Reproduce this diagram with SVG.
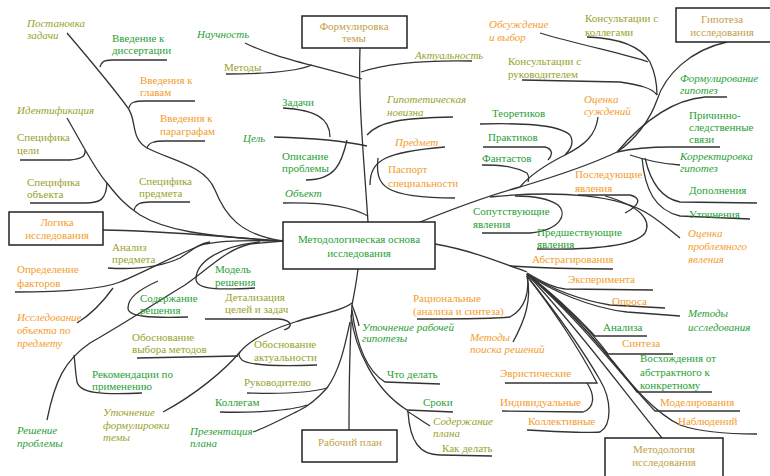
<svg xmlns="http://www.w3.org/2000/svg" width="770" height="476" viewBox="0 0 770 476">
<style>
text{font-family:"Liberation Serif","Times New Roman",serif;font-size:11px}
.g{fill:#27a035}.o{fill:#9aa22a}.r{fill:#f39c2b}.k{fill:#c2a046}
.i{font-style:italic}
.m{text-anchor:middle}
.box{fill:#fff;stroke:#222;stroke-width:1.5}
#connectors path{fill:none;stroke:#333;stroke-width:1.3}
</style>
<rect width="770" height="476" fill="#fff"/>
<g id="connectors">
<path d="M360,48 C358,100 364,160 368,222"/>
<path d="M361,72 C385,64 420,60 472,61"/>
<path d="M245,43 C275,58 310,64 362,79"/>
<path d="M226,74 C260,74 295,72 312,65"/>
<path d="M367,135 C378,122 400,118 453,117"/>
<path d="M370,185 C370,160 385,152 445,147"/>
<path d="M378,158 C375,186 383,198 455,198"/>
<path d="M274,137 C310,138 340,140 367,146"/>
<path d="M283,108 C315,110 330,118 330,137"/>
<path d="M347,140 C342,162 336,180 306,180"/>
<path d="M283,203 C320,202 350,206 368,216"/>
<path d="M67,33 C90,60 115,90 128,108 C137,120 130,138 147,148 C170,160 205,165 215,190 C225,215 240,235 283,241"/>
<path d="M100,67 C101,62 104,60 112,60 L167,60"/>
<path d="M129,108 C130,102 135,101 145,101 L195,101"/>
<path d="M147,148 C149,142 155,141 165,141 L205,141"/>
<path d="M67,118 C80,140 95,170 107,183 C118,197 125,205 140,215 C165,230 200,236 283,241"/>
<path d="M85,150 C86,157 80,159 70,160 L20,160"/>
<path d="M107,183 C106,200 100,203 85,203 L30,203"/>
<path d="M134,210 C136,204 140,202 150,202 L190,202"/>
<path d="M103,230 C150,230 200,235 283,241"/>
<path d="M15,292 C60,292 100,290 120,282 C150,270 180,252 205,244 C225,240 250,240 283,241"/>
<path d="M108,268 C140,270 165,265 180,258 C192,250 198,244 210,242"/>
<path d="M77,323 C90,315 103,302 113,288"/>
<path d="M47,420 C55,380 65,360 90,343 C130,320 160,300 185,285 C210,268 225,250 250,244 L283,241"/>
<path d="M188,317 C150,318 128,317 128,308 C128,298 138,290 158,281"/>
<path d="M142,393 C100,395 80,393 77,382 C75,370 75,362 74,355"/>
<path d="M255,288 C220,290 196,290 196,279 C196,262 220,246 260,242"/>
<path d="M358,269 C356,285 354,295 352,305"/>
<path d="M352,305 C350,340 349,380 349,430"/>
<path d="M352,305 C355,313 358,320 359,326"/>
<path d="M352,310 C356,340 365,370 385,382 L440,384"/>
<path d="M351,315 C355,350 375,390 407,410 L453,412"/>
<path d="M407,411 C415,416 422,421 430,426"/>
<path d="M408,412 C410,442 420,455 440,455 L492,456"/>
<path d="M352,303 C340,312 315,315 295,322 C270,330 250,340 240,352 C225,370 195,395 163,412"/>
<path d="M205,319 L278,319 C293,320 293,327 284,330"/>
<path d="M137,358 L238,356"/>
<path d="M317,365 C290,366 250,366 242,360 C238,356 238,354 240,352"/>
<path d="M350,322 C345,345 340,370 327,388 C318,398 310,405 300,410 C280,420 265,428 253,432"/>
<path d="M247,393 C280,394 310,393 327,388"/>
<path d="M220,412 C250,413 290,411 307,405"/>
<path d="M420,222 C450,210 490,195 520,187 C560,175 590,165 617,152 C635,140 650,120 657,100 C665,75 690,50 727,42"/>
<path d="M617,152 C640,125 670,100 705,97 L727,97"/>
<path d="M587,37 C615,38 640,45 650,62 C656,75 657,85 657,95"/>
<path d="M540,33 C580,45 630,55 648,62"/>
<path d="M522,80 L620,82 C640,85 652,88 657,95"/>
<path d="M598,117 C596,135 585,145 565,155 C545,165 530,175 520,187"/>
<path d="M480,124 C520,123 558,124 570,135 C575,143 570,150 565,155"/>
<path d="M483,147 L545,147 C553,149 553,155 548,160"/>
<path d="M482,165 C500,165 513,166 527,173 C529,176 529,179 528,182"/>
<path d="M617,152 C635,148 650,147 670,147 L720,147"/>
<path d="M630,155 C645,160 660,164 680,165"/>
<path d="M645,158 C650,180 660,198 680,202 L757,203"/>
<path d="M642,158 C645,190 655,210 680,216 L750,219"/>
<path d="M490,197 C560,190 620,195 650,215 C665,225 672,232 680,238"/>
<path d="M482,233 L530,233 C560,230 568,215 558,205 C548,198 530,196 515,196"/>
<path d="M537,249 C590,250 635,246 645,233 C652,220 640,206 605,196"/>
<path d="M578,195 L630,195 C642,198 640,205 625,213"/>
<path d="M435,244 C470,250 500,262 527,272"/>
<path d="M510,266 C540,268 580,269 613,269"/>
<path d="M527,273 C540,280 550,287 565,289 L653,290"/>
<path d="M527,274 C550,288 580,300 610,305 L665,308"/>
<path d="M527,274 C550,290 590,308 627,312 L680,316"/>
<path d="M527,274 C555,295 580,320 595,336 L647,336"/>
<path d="M527,274 C560,300 590,330 608,354 L673,354"/>
<path d="M527,274 C570,310 610,355 637,392 L712,392"/>
<path d="M527,274 C580,320 625,380 655,411 L740,411"/>
<path d="M527,274 C600,330 630,400 680,425 C700,432 730,434 757,434"/>
<path d="M527,274 C580,330 630,400 662,438"/>
<path d="M527,274 C530,292 525,309 510,317 C495,319 450,319 417,319"/>
<path d="M527,276 C532,300 525,320 513,342"/>
<path d="M505,383 L597,383 C580,350 550,305 527,276"/>
<path d="M502,411 L583,412 C595,408 595,395 587,383"/>
<path d="M527,430 C560,432 590,433 600,432 C612,425 612,400 600,380 C580,345 550,305 527,276"/>
</g>
<g id="n-center"><rect class="box" x="283" y="222" width="152" height="47"/><text class="g m" x="359" y="243">Методологическая основа</text><text class="g m" x="359" y="257">исследования</text></g>
<g id="n-tema"><rect class="box" x="302" y="16" width="105" height="32"/><text class="k m" x="354" y="30">Формулировка</text><text class="k m" x="354" y="42">темы</text></g>
<g id="n-gipoteza"><rect class="box" x="676" y="8" width="96" height="34"/><text class="k m" x="722" y="23">Гипотеза</text><text class="k m" x="722" y="36">исследования</text></g>
<g id="n-logika"><rect class="box" x="9" y="212" width="94" height="33"/><text class="r m" x="57" y="226">Логика</text><text class="r m" x="57" y="239">исследования</text></g>
<g id="n-plan"><rect class="box" x="302" y="430" width="95" height="32"/><text class="k m" x="350" y="446">Рабочий план</text></g>
<g id="n-metodologia"><rect class="box" x="605" y="438" width="118" height="40"/><text class="k m" x="664" y="453">Методология</text><text class="k m" x="664" y="466">исследования</text></g>
<g id="n-postanovka"><text class="o i" x="27" y="27">Постановка</text><text class="o i" x="27" y="39">задачи</text></g>
<g id="n-vved-diss"><text class="g" x="112" y="42">Введение к</text><text class="g" x="112" y="54">диссертации</text></g>
<g id="n-vved-glav"><text class="r" x="140" y="84">Введения к</text><text class="r" x="140" y="96">главам</text></g>
<g id="n-vved-par"><text class="r" x="160" y="122">Введения к</text><text class="r" x="160" y="135">параграфам</text></g>
<g id="n-ident"><text class="o i" x="17" y="114">Идентификация</text></g>
<g id="n-spec-cel"><text class="o" x="17" y="141">Специфика</text><text class="o" x="17" y="154">цели</text></g>
<g id="n-spec-obj"><text class="o" x="27" y="186">Специфика</text><text class="o" x="27" y="198">объекта</text></g>
<g id="n-spec-pred"><text class="o" x="139" y="185">Специфика</text><text class="o" x="139" y="197">предмета</text></g>
<g id="n-nauch"><text class="g i" x="197" y="38">Научность</text></g>
<g id="n-metody"><text class="o" x="224" y="71">Методы</text></g>
<g id="n-zadachi"><text class="g" x="282" y="106">Задачи</text></g>
<g id="n-cel"><text class="g i" x="243" y="142">Цель</text></g>
<g id="n-opis"><text class="g" x="282" y="160">Описание</text><text class="g" x="282" y="172">проблемы</text></g>
<g id="n-obj"><text class="g i" x="285" y="197">Объект</text></g>
<g id="n-aktual"><text class="o i" x="415" y="59">Актуальность</text></g>
<g id="n-gipnov"><text class="o i" x="387" y="103">Гипотетическая</text><text class="o i" x="387" y="116">новизна</text></g>
<g id="n-predmet"><text class="r i" x="395" y="146">Предмет</text></g>
<g id="n-pasport"><text class="r" x="388" y="173">Паспорт</text><text class="r" x="388" y="187">специальности</text></g>
<g id="n-obsuzh"><text class="r i" x="489" y="28">Обсуждение</text><text class="r i" x="489" y="41">и выбор</text></g>
<g id="n-kons-kol"><text class="o" x="585" y="22">Консультации с</text><text class="o" x="585" y="36">коллегами</text></g>
<g id="n-kons-ruk"><text class="o" x="508" y="65">Консультации с</text><text class="o" x="508" y="78">руководителем</text></g>
<g id="n-formul"><text class="g i" x="680" y="82">Формулирование</text><text class="g i" x="680" y="94">гипотез</text></g>
<g id="n-ocenka-s"><text class="r i" x="584" y="103">Оценка</text><text class="r i" x="584" y="115">суждений</text></g>
<g id="n-teor"><text class="g" x="492" y="117">Теоретиков</text></g>
<g id="n-prakt"><text class="g" x="488" y="141">Практиков</text></g>
<g id="n-fant"><text class="g" x="482" y="162">Фантастов</text></g>
<g id="n-prichin"><text class="g" x="689" y="119">Причинно-</text><text class="g" x="689" y="131">следственные</text><text class="g" x="689" y="143">связи</text></g>
<g id="n-korr"><text class="g i" x="680" y="160">Корректировка</text><text class="g i" x="680" y="172">гипотез</text></g>
<g id="n-dopol"><text class="g" x="689" y="194">Дополнения</text></g>
<g id="n-utoch"><text class="g" x="689" y="218">Уточнения</text></g>
<g id="n-ocenka-p"><text class="r i" x="688" y="237">Оценка</text><text class="r i" x="688" y="250">проблемного</text><text class="r i" x="688" y="263">явления</text></g>
<g id="n-posled"><text class="r" x="575" y="178">Последующие</text><text class="r" x="575" y="192">явления</text></g>
<g id="n-soput"><text class="g" x="473" y="215">Сопутствующие</text><text class="g" x="473" y="228">явления</text></g>
<g id="n-predsh"><text class="g" x="537" y="236">Предшествующие</text><text class="g" x="537" y="248">явления</text></g>
<g id="n-abstr"><text class="r" x="532" y="263">Абстрагирования</text></g>
<g id="n-analiz-pr"><text class="o" x="112" y="251">Анализ</text><text class="o" x="112" y="263">предмета</text></g>
<g id="n-opred"><text class="r" x="17" y="273">Определение</text><text class="r" x="17" y="287">факторов</text></g>
<g id="n-model"><text class="g" x="215" y="273">Модель</text><text class="g" x="215" y="286">решения</text></g>
<g id="n-soderzh-r"><text class="g" x="140" y="302">Содержание</text><text class="g" x="140" y="314">решения</text></g>
<g id="n-detal"><text class="o" x="225" y="301">Детализация</text><text class="o" x="225" y="313">целей и задач</text></g>
<g id="n-issled"><text class="r i" x="17" y="321">Исследование</text><text class="r i" x="17" y="334">объекта по</text><text class="r i" x="17" y="347">предмету</text></g>
<g id="n-obosn-m"><text class="o" x="132" y="341">Обоснование</text><text class="o" x="132" y="353">выбора методов</text></g>
<g id="n-obosn-a"><text class="o" x="254" y="348">Обоснование</text><text class="o" x="254" y="361">актуальности</text></g>
<g id="n-rekom"><text class="g" x="92" y="378">Рекомендации по</text><text class="g" x="92" y="390">применению</text></g>
<g id="n-rukov"><text class="o" x="244" y="386">Руководителю</text></g>
<g id="n-kolleg"><text class="g" x="215" y="406">Коллегам</text></g>
<g id="n-reshen"><text class="g i" x="17" y="434">Решение</text><text class="g i" x="17" y="447">проблемы</text></g>
<g id="n-utoch-f"><text class="o i" x="103" y="416">Уточнение</text><text class="o i" x="103" y="429">формулировки</text><text class="o i" x="103" y="441">темы</text></g>
<g id="n-prezent"><text class="g i" x="190" y="435">Презентация</text><text class="g i" x="190" y="447">плана</text></g>
<g id="n-utoch-g"><text class="g i" x="362" y="331">Уточнение рабочей</text><text class="g i" x="362" y="342">гипотезы</text></g>
<g id="n-racion"><text class="r" x="413" y="302">Рациональные</text><text class="r" x="413" y="315">(анализа и синтеза)</text></g>
<g id="n-poisk"><text class="r i" x="470" y="341">Методы</text><text class="r i" x="470" y="353">поиска решений</text></g>
<g id="n-chto"><text class="g" x="387" y="378">Что делать</text></g>
<g id="n-sroki"><text class="g" x="423" y="406">Сроки</text></g>
<g id="n-soderzh-p"><text class="o i" x="433" y="425">Содержание</text><text class="o i" x="433" y="437">плана</text></g>
<g id="n-kak"><text class="o" x="442" y="452">Как делать</text></g>
<g id="n-evrist"><text class="r" x="500" y="377">Эвристические</text></g>
<g id="n-indiv"><text class="r" x="500" y="406">Индивидуальные</text></g>
<g id="n-kollekt"><text class="r" x="528" y="425">Коллективные</text></g>
<g id="n-eksper"><text class="r" x="568" y="283">Эксперимента</text></g>
<g id="n-opros"><text class="r" x="612" y="305">Опроса</text></g>
<g id="n-metody-i"><text class="g i" x="688" y="317">Методы</text><text class="g i" x="688" y="331">исследования</text></g>
<g id="n-analiza"><text class="g" x="603" y="331">Анализа</text></g>
<g id="n-sinteza"><text class="r" x="622" y="347">Синтеза</text></g>
<g id="n-voshozh"><text class="g" x="640" y="362">Восхождения от</text><text class="g" x="640" y="376">абстрактного к</text><text class="g" x="640" y="389">конкретному</text></g>
<g id="n-model-i"><text class="r" x="660" y="406">Моделирования</text></g>
<g id="n-nabl"><text class="r" x="678" y="425">Наблюдений</text></g>
</svg>
